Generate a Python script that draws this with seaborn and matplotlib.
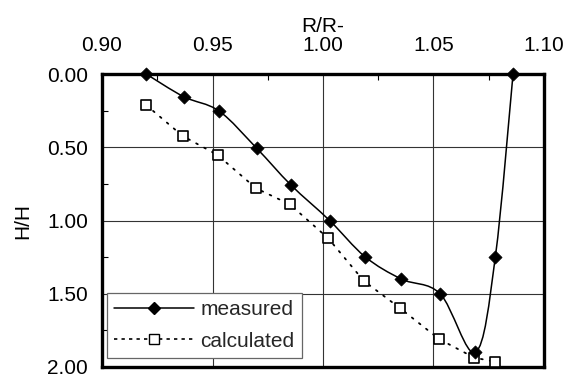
import numpy as np
import pandas as pd
import matplotlib
matplotlib.use("Agg")
import matplotlib.pyplot as plt
from matplotlib.path import Path
from matplotlib.patches import PathPatch
from matplotlib.lines import Line2D
import matplotlib.ticker as mticker
import seaborn as sns

# Measured profile
meas_r = [0.920, 0.937, 0.953, 0.970, 0.9855, 1.003, 1.019, 1.0355, 1.053, 1.069, 1.078, 1.086]
meas_h = [0.00, 0.155, 0.253, 0.507, 0.758, 1.00, 1.247, 1.40, 1.50, 1.90, 1.247, 0.00]

# Calculated profile
calc_r = [0.920, 0.9365, 0.9523, 0.9697, 0.985, 1.0024, 1.0185, 1.035, 1.0525, 1.0684, 1.0778]
calc_h = [0.212, 0.423, 0.553, 0.780, 0.890, 1.122, 1.413, 1.60, 1.809, 1.936, 1.964]

x_ticks = [0.90, 0.95, 1.00, 1.05, 1.10]
y_ticks = [0.00, 0.50, 1.00, 1.50, 2.00]

FS = 15

sns.set_theme(style="white")
plt.rcParams["font.family"] = ["Liberation Sans", "DejaVu Sans"]

fig = plt.figure(figsize=(5.68, 3.79), dpi=100)
ax = fig.add_axes([0.1796, 0.0317, 0.7781, 0.7730])

df_meas = pd.DataFrame({"r": meas_r, "h": meas_h})
df_calc = pd.DataFrame({"r": calc_r, "h": calc_h})

# Smoothed line through the measured points (Catmull-Rom style Bezier path)
pts = np.column_stack([meas_r, meas_h])
verts = [tuple(pts[0])]
codes = [Path.MOVETO]
n = len(pts)
for i in range(n - 1):
    p0 = pts[i - 1] if i > 0 else pts[i]
    p1 = pts[i]
    p2 = pts[i + 1]
    p3 = pts[i + 2] if i + 2 < n else pts[i + 1]
    c1 = p1 + (p2 - p0) / 6.0
    c2 = p2 - (p3 - p1) / 6.0
    verts += [tuple(c1), tuple(c2), tuple(p2)]
    codes += [Path.CURVE4] * 3
ax.add_patch(PathPatch(Path(verts, codes), facecolor="none", edgecolor="black",
                       lw=1.1, zorder=3, clip_on=False))

# Calculated: dotted straight segments with open squares
sns.lineplot(data=df_calc, x="r", y="h", sort=False, estimator=None, ax=ax,
             color="black", lw=1.3, linestyle=(0, (1, 4)), zorder=3)
ax.lines[-1].set_dash_capstyle("round")
sns.scatterplot(data=df_calc, x="r", y="h", ax=ax, marker="s", s=55,
                facecolor="white", edgecolor="black", linewidth=1.2,
                zorder=4, clip_on=False)
sns.scatterplot(data=df_meas, x="r", y="h", ax=ax, marker="D", s=45,
                color="black", edgecolor="black", linewidth=0.5,
                zorder=5, clip_on=False)

ax.set_xlim(0.90, 1.10)
ax.set_ylim(2.00, 0.00)
ax.xaxis.set_ticks_position("top")
ax.xaxis.set_label_position("top")
ax.set_xticks(x_ticks)
ax.set_yticks(y_ticks)
ax.xaxis.set_major_formatter(mticker.FormatStrFormatter("%.2f"))
ax.yaxis.set_major_formatter(mticker.FormatStrFormatter("%.2f"))
ax.xaxis.set_minor_locator(mticker.MultipleLocator(0.025))
ax.yaxis.set_minor_locator(mticker.MultipleLocator(0.25))
ax.tick_params(which="major", direction="in", length=0, labelsize=FS,
               colors="black")
ax.tick_params(axis="y", which="major", pad=10)
ax.tick_params(which="minor", direction="in", length=4, width=0.8,
               colors="black", top=True, left=True, bottom=False, right=False)
ax.tick_params(axis="x", which="major", top=True, bottom=False,
               labeltop=True, labelbottom=False, pad=13.5)

ax.grid(True, which="major", color="#333333", lw=0.8)
for s in ax.spines.values():
    s.set_visible(True)
    s.set_color("black")
    s.set_linewidth(2.4)

ax.set_xlabel("R/R-", fontsize=FS, labelpad=3, color="black")
ax.set_ylabel("H/H", fontsize=FS, labelpad=11, color="black")

handles = [
    Line2D([], [], color="black", lw=1.1, marker="D", markersize=6.5,
           markerfacecolor="black"),
    Line2D([], [], color="black", lw=1.2, linestyle=(0, (2, 2.5)), marker="s",
           markersize=7, markerfacecolor="white", markeredgecolor="black"),
]
leg = ax.legend(handles, ["measured", "calculated"], loc="lower left",
                bbox_to_anchor=(0.011, 0.031), fontsize=FS, frameon=True,
                fancybox=False, edgecolor="#666666", framealpha=1,
                handlelength=3.85, handletextpad=0.3, borderpad=0.35,
                labelspacing=0.6, borderaxespad=0.0)
leg.get_frame().set_linewidth(0.9)
leg.set_zorder(6)

fig.savefig("out.png", dpi=100)
